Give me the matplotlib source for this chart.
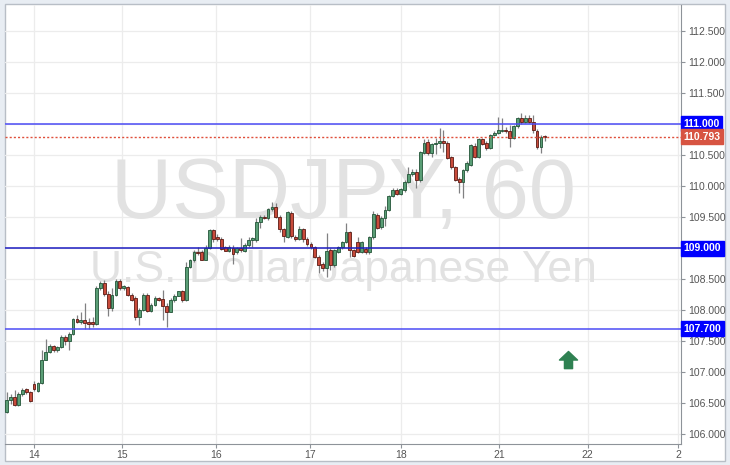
import numpy as np
import matplotlib
matplotlib.use("Agg")
import matplotlib.pyplot as plt
from matplotlib.path import Path
from matplotlib.patches import Rectangle

# ---------------- data ----------------
opens = [106.36, 106.55, 106.60, 106.47, 106.65, 106.72, 106.68, 106.80, 106.70, 106.82,
         107.20, 107.33, 107.42, 107.35, 107.40, 107.57, 107.50, 107.62, 107.85, 107.80,
         107.84, 107.81, 107.81, 107.77, 108.35, 108.43, 108.26, 108.03, 108.24, 108.47,
         108.35, 108.37, 108.24, 108.19, 107.89, 108.00, 108.24, 107.99, 108.08, 108.19,
         108.17, 108.07, 107.97, 108.16, 108.23, 108.30, 108.16, 108.70, 108.81, 108.94,
         108.94, 108.81, 109.00, 109.29, 109.18, 109.15, 109.02, 108.95, 109.00, 108.93,
         109.00, 108.95, 109.05, 109.13, 109.13, 109.42, 109.50, 109.49, 109.63, 109.66,
         109.50, 109.30, 109.18, 109.57, 109.18, 109.15, 109.30, 109.14, 109.07, 109.02,
         108.86, 108.74, 108.67, 108.97, 108.73, 108.94, 109.01, 109.10, 109.25, 108.97,
         109.09, 108.94, 108.99, 108.93, 109.17, 109.53, 109.34, 109.48, 109.62, 109.84,
         109.94, 109.87, 109.93, 110.07, 110.19, 110.23, 110.09, 110.53, 110.71, 110.53,
         110.68, 110.70, 110.72, 110.69, 110.46, 110.31, 110.12, 110.07, 110.26, 110.34,
         110.65, 110.47, 110.75, 110.69, 110.61, 110.82, 110.86, 110.89, 110.91, 110.89,
         110.77, 110.96, 111.09, 111.04, 111.09, 111.04, 110.88, 110.63, 110.80]
highs = [106.68, 106.65, 106.71, 106.67, 106.74, 106.74, 106.70, 106.86, 106.84, 107.35,
         107.54, 107.45, 107.44, 107.42, 107.60, 107.60, 107.65, 107.87, 107.92, 107.96,
         108.12, 107.87, 107.89, 108.38, 108.46, 108.49, 108.30, 108.35, 108.50, 108.50,
         108.40, 108.38, 108.27, 108.22, 108.03, 108.27, 108.27, 108.11, 108.22, 108.21,
         108.32, 108.11, 108.19, 108.26, 108.31, 108.33, 108.78, 108.83, 108.97, 109.02,
         108.96, 109.05, 109.30, 109.30, 109.22, 109.18, 109.04, 109.05, 109.05, 109.02,
         109.16, 109.08, 109.18, 109.18, 109.48, 109.53, 109.53, 109.64, 109.74, 109.72,
         109.53, 109.33, 109.60, 109.59, 109.21, 109.35, 109.33, 109.17, 109.10, 109.04,
         108.89, 108.77, 109.24, 109.00, 108.99, 109.03, 109.12, 109.41, 109.27, 108.99,
         109.18, 109.11, 109.02, 109.19, 109.60, 109.56, 109.51, 109.68, 109.86, 109.97,
         109.97, 109.97, 110.09, 110.31, 110.27, 110.27, 110.57, 110.75, 110.75, 110.70,
         110.78, 110.93, 110.90, 110.72, 110.49, 110.33, 110.15, 110.28, 110.40, 110.68,
         110.70, 110.77, 110.78, 110.72, 110.84, 110.88, 111.12, 111.09, 110.95, 110.98,
         110.98, 111.11, 111.17, 111.14, 111.14, 111.14, 110.92, 110.83, 110.83]
lows = [106.34, 106.49, 106.45, 106.45, 106.62, 106.64, 106.52, 106.70, 106.68, 106.80,
        107.19, 107.30, 107.33, 107.33, 107.38, 107.44, 107.35, 107.60, 107.79, 107.78,
        107.69, 107.69, 107.73, 107.76, 108.33, 108.22, 107.90, 107.98, 108.22, 108.32,
        108.33, 108.23, 108.14, 107.84, 107.76, 107.98, 107.97, 107.97, 108.06, 108.14,
        107.84, 107.73, 107.96, 108.13, 108.22, 108.13, 108.14, 108.68, 108.78, 108.89,
        108.80, 108.80, 108.98, 109.10, 109.12, 108.97, 108.95, 108.93, 108.75, 108.90,
        108.93, 108.93, 109.02, 109.02, 109.10, 109.32, 109.47, 109.45, 109.59, 109.48,
        109.26, 109.10, 109.16, 109.16, 109.12, 109.13, 109.10, 109.04, 108.99, 108.84,
        108.60, 108.63, 108.54, 108.64, 108.70, 108.92, 108.99, 109.08, 108.86, 108.85,
        108.92, 108.92, 108.91, 108.91, 109.15, 109.30, 109.31, 109.35, 109.60, 109.82,
        109.85, 109.85, 109.91, 110.05, 110.16, 109.96, 110.07, 110.51, 110.50, 110.47,
        110.52, 110.62, 110.55, 110.44, 110.28, 110.08, 109.88, 109.80, 110.22, 110.32,
        110.45, 110.45, 110.66, 110.58, 110.60, 110.80, 110.84, 110.87, 110.86, 110.63,
        110.75, 110.94, 111.00, 111.02, 111.02, 110.85, 110.60, 110.53, 110.72]
closes = [106.55, 106.59, 106.47, 106.65, 106.71, 106.67, 106.53, 106.72, 106.82, 107.20,
          107.33, 107.42, 107.35, 107.40, 107.57, 107.50, 107.62, 107.85, 107.80, 107.84,
          107.79, 107.78, 107.77, 108.35, 108.43, 108.26, 108.04, 108.24, 108.47, 108.35,
          108.38, 108.24, 108.16, 107.89, 108.00, 108.24, 107.99, 108.08, 108.19, 108.16,
          108.07, 107.97, 108.16, 108.23, 108.30, 108.16, 108.70, 108.81, 108.94, 108.92,
          108.81, 109.00, 109.29, 109.14, 109.14, 108.99, 108.95, 109.01, 108.91, 109.00,
          108.96, 109.05, 109.13, 109.16, 109.42, 109.50, 109.49, 109.63, 109.66, 109.50,
          109.30, 109.19, 109.58, 109.20, 109.14, 109.31, 109.15, 109.07, 109.02, 108.86,
          108.73, 108.67, 108.95, 108.73, 108.97, 109.01, 109.10, 109.25, 108.97, 108.87,
          108.94, 109.09, 108.93, 109.17, 109.55, 109.33, 109.48, 109.62, 109.84, 109.94,
          109.87, 109.95, 110.07, 110.19, 110.23, 110.09, 110.55, 110.70, 110.53, 110.68,
          110.70, 110.72, 110.70, 110.45, 110.31, 110.10, 110.07, 110.26, 110.37, 110.66,
          110.47, 110.75, 110.68, 110.61, 110.82, 110.85, 110.90, 110.91, 110.89, 110.77,
          110.96, 111.09, 111.04, 111.09, 111.04, 110.90, 110.63, 110.79, 110.793]

day_labels = ["14", "15", "16", "17", "18", "21", "22", "2"]
day_tick_pos = [7, 29.6, 53.7, 77.8, 101.1, 126.2, 149, 172.1]

level_prices = [111.0, 109.0, 107.7]
last_price = 110.793
arrow_pos = (144, 107.19)

symbol_text = "USDJPY, 60"
name_text = "U.S. Dollar/Japanese Yen"

# ---------------- figure ----------------
W, H = 730, 465
fig = plt.figure(figsize=(W / 100, H / 100), dpi=100)
fig.patch.set_facecolor("#e8edf3")
panel = Rectangle((5 / W, 4 / H), 720 / W, 457 / H, transform=fig.transFigure,
                  facecolor="white", edgecolor="#b8bec6", linewidth=1.0, zorder=-5)
fig.add_artist(panel)

ax = fig.add_axes([5 / W, (H - 444) / H, (681 - 5) / W, (444 - 5) / H])
ax.set_zorder(2)
ax.set_facecolor("none")
ax.set_xlim(-0.44, 172.9)
ax.set_ylim(105.839, 112.919)

# grid
yt = np.arange(106.0, 112.51, 0.5)
for y in yt:
    ax.axhline(y, color="#ececec", lw=0.9, zorder=0)
for x in day_tick_pos:
    ax.axvline(x, color="#ececec", lw=0.9, zorder=0)

# watermark
ax.text(0.5, 0.565, symbol_text, transform=ax.transAxes, ha="center", va="center",
        fontsize=61, color="#e2e2e2", family="Liberation Sans", zorder=1)
ax.text(0.5, 0.395, name_text, transform=ax.transAxes, ha="center", va="center",
        fontsize=32, color="#e2e2e2", family="Liberation Sans", zorder=1)

# candles
o = np.array(opens); h = np.array(highs); l = np.array(lows); c = np.array(closes)
idx = np.arange(len(o))
up = c >= o
ax.vlines(idx, l, h, color="#808082", lw=0.9, zorder=3)
body_bot = np.minimum(o, c)
body_h = np.maximum(np.abs(c - o), 0.012)
ax.bar(idx[up], body_h[up], bottom=body_bot[up], width=0.72, color="#5a9e76",
       edgecolor="#225437", linewidth=0.6, zorder=4)
ax.bar(idx[~up], body_h[~up], bottom=body_bot[~up], width=0.72, color="#c84b3b",
       edgecolor="#5b1a13", linewidth=0.6, zorder=4)

# horizontal levels
level_colors = ["#4b4bf5", "#1c1cc0", "#4b4bf5"]
for p, col in zip(level_prices, level_colors):
    ax.axhline(p, color=col, lw=1.1, zorder=5)
ax.axhline(last_price, color="#e0503c", lw=1.0, ls=(0, (1.5, 1.5)), zorder=5)

# arrow
arrow = Path([(0, 1), (1, 0.05), (0.45, 0.05), (0.45, -0.9), (-0.45, -0.9), (-0.45, 0.05),
              (-1, 0.05), (0, 1)], closed=True)
ax.plot([arrow_pos[0]], [arrow_pos[1]], marker=arrow, markersize=13, color="#2f8152",
        markeredgecolor="#2f8152", zorder=6)

# axes styling
for s in ["top", "left"]:
    ax.spines[s].set_visible(False)
ax.spines["right"].set_color("#8e9399")
ax.spines["bottom"].set_color("#8e9399")
ax.yaxis.tick_right()
ax.set_yticks(yt)
# tick labels at level prices are covered by the level boxes in the reference
ax.set_yticklabels(["" if any(abs(v - p) < 1e-9 for p in level_prices) else f"{v:.3f}"
                    for v in yt])
ax.tick_params(axis="y", length=3, width=0.8, color="#8e9399", labelsize=7.5,
               labelcolor="#555555", pad=2)
ax.set_xticks(day_tick_pos)
ax.set_xticklabels(day_labels)
ax.tick_params(axis="x", length=3, width=0.8, color="#8e9399", labelsize=7.5,
               labelcolor="#555555", pad=1)
for t in ax.get_xticklabels() + ax.get_yticklabels():
    t.set_family("Liberation Sans")

# price labels on right axis
def axis_label(price, text, fc):
    ax.text(1.004, price, text, transform=ax.get_yaxis_transform(), ha="left", va="center",
            fontsize=7.5, color="white", family="Liberation Sans", fontweight="bold",
            bbox=dict(boxstyle="square,pad=0.24", fc=fc, ec=fc), zorder=10, clip_on=False)

for p in level_prices:
    axis_label(p, f"{p:.3f}", "#0000ff")
axis_label(last_price, f"{last_price:.3f}", "#d75442")

fig.savefig("out.png", dpi=100, facecolor=fig.get_facecolor())
